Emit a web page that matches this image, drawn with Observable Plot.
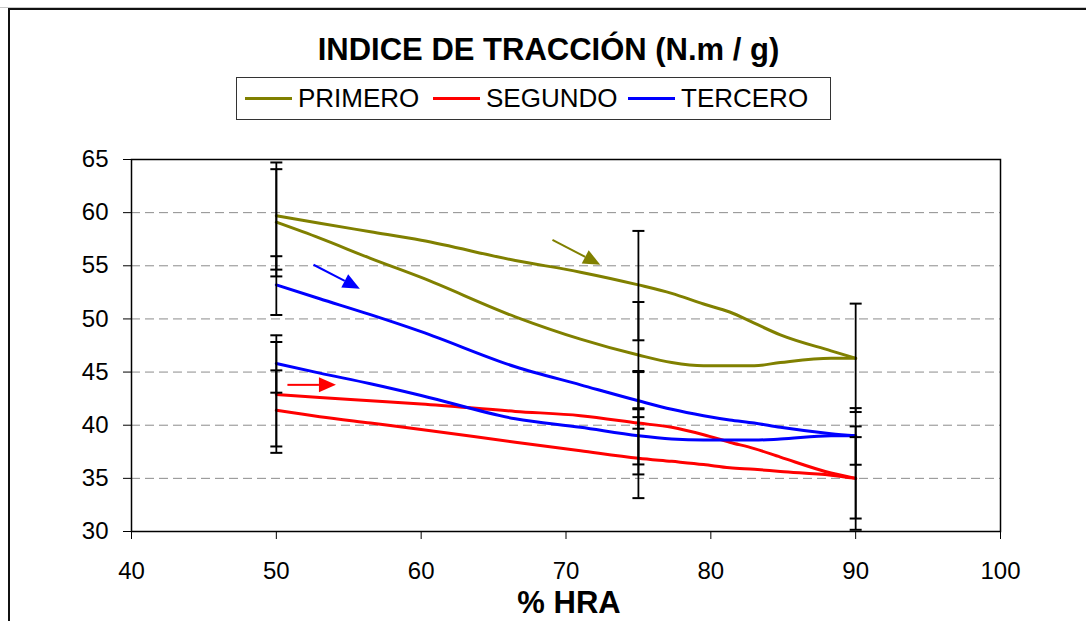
<!DOCTYPE html>
<html><head><meta charset="utf-8">
<script src="https://cdn.jsdelivr.net/npm/d3@7"></script>
<script src="https://cdn.jsdelivr.net/npm/@observablehq/plot@0.6"></script>
<style>
html,body{margin:0;padding:0;background:#fff;overflow:hidden;}
#wrap{position:relative;width:1086px;height:621px;overflow:hidden;font-family:"Liberation Sans",Arial,sans-serif;color:#000;}
#topline{position:absolute;left:0;top:7px;width:1086px;height:1px;background:#c8c8c8;}
#frame{position:absolute;left:8px;top:8px;width:1200px;height:800px;border-left:2px solid #111;border-top:2px solid #111;}
#title{position:absolute;left:0;width:1097px;top:30px;text-align:center;font-weight:bold;font-size:31px;line-height:40px;white-space:nowrap;}
#legend{position:absolute;left:236px;top:77px;width:593px;height:41px;border:1px solid #333;background:#fff;font-size:26px;}
.item{position:absolute;top:0;height:41px;display:flex;align-items:center;white-space:nowrap;}
.sw{display:inline-block;width:47px;height:3px;margin-right:6px;}
#chart{position:absolute;left:0;top:130px;}
#xlabel{position:absolute;left:0;width:1138px;top:585px;text-align:center;font-weight:bold;font-size:31px;line-height:36px;}
</style>
</head><body>
<div id="wrap">
  <div id="topline"></div>
  <div id="frame"></div>
  <div id="title">INDICE DE TRACCIÓN (N.m / g)</div>
  <div id="legend"></div>
  <div id="chart"></div>
  <div id="xlabel">% HRA</div>
</div>
<script>
// ---- data ----
const series = ["PRIMERO", "SEGUNDO", "TERCERO"];
const colors = ["#808000", "#FF0000", "#0000FF"];
const xTicks = [40, 50, 60, 70, 80, 90, 100];
const yTicks = [30, 35, 40, 45, 50, 55, 60, 65];
const gridY = [35, 40, 45, 50, 55, 60];

const hra = [50, 53, 56.5, 60, 66.5, 71, 75, 77.3, 79.5, 81.3, 83, 84.8, 88.3, 90];
const primeroIda     = [59.7, 59.0, 58.2, 57.4, 55.5, 54.4, 53.2, 52.4, 51.4, 50.65, 49.6, 48.5, 47.0, 46.3];
const primeroVuelta  = [59.1, 57.6, 55.7, 53.9, 50.2, 48.1, 46.6, 45.9, 45.6, 45.6, 45.6, 45.9, 46.3, 46.3];
const segundoIda     = [42.9, 42.6, 42.3, 42.0, 41.3, 40.9, 40.2, 39.8, 39.1, 38.4, 37.8, 37.0, 35.5, 35.0];
const segundoVuelta  = [41.4, 40.8, 40.2, 39.6, 38.4, 37.6, 36.9, 36.6, 36.3, 36.0, 35.85, 35.65, 35.3, 35.0];
const terceroIda     = [53.2, 51.9, 50.4, 48.8, 45.5, 43.8, 42.3, 41.5, 40.9, 40.5, 40.2, 39.8, 39.2, 39.0];
const terceroVuelta  = [45.8, 44.9, 43.9, 42.8, 40.6, 39.8, 39.0, 38.7, 38.6, 38.6, 38.6, 38.7, 39.0, 39.0];

// error bars (x, low, high)
const errX    = [50, 50, 50, 50, 50, 50, 75, 75, 75, 75, 75, 75, 90, 90, 90, 90];
const errLow  = [54.64, 54.0, 50.37, 43.06, 38.0, 37.4, 47.99, 41.6, 39.67, 36.31, 35.37, 33.14, 41.24, 36.28, 30.16, 31.22];
const errHigh = [64.72, 64.09, 55.9, 48.46, 47.83, 45.16, 58.28, 51.59, 45.1, 41.5, 45.0, 40.76, 51.44, 41.61, 39.89, 38.88];

// direction arrows
const arrowSeries = ["PRIMERO", "TERCERO", "SEGUNDO"];
const arrowX1 = [69.1, 52.6, 50.8];
const arrowY1 = [57.4, 55.05, 43.75];
const arrowX2 = [72.4, 55.8, 54.15];
const arrowY2 = [55.05, 52.8, 43.75];

// ---- build tables ----
const branches = [
  ["PRIMERO", "ida", primeroIda], ["PRIMERO", "vuelta", primeroVuelta],
  ["SEGUNDO", "ida", segundoIda], ["SEGUNDO", "vuelta", segundoVuelta],
  ["TERCERO", "ida", terceroIda], ["TERCERO", "vuelta", terceroVuelta]
];
const lineRows = branches.flatMap(([s, b, vals]) => hra.map((h, i) => ({hra: h, value: vals[i], series: s, branch: s + b})));
const errRows = errX.map((x, i) => ({x, lo: errLow[i], hi: errHigh[i]}));
const capRows = errRows.flatMap(d => [{x: d.x, y: d.lo}, {x: d.x, y: d.hi}]);
const arrowRows = arrowSeries.map((s, i) => ({s, x1: arrowX1[i], y1: arrowY1[i], x2: arrowX2[i], y2: arrowY2[i]}));
const colorOf = s => colors[series.indexOf(s)];

// legend
const legend = document.getElementById("legend");
const legendLeft = [8, 196, 391];
series.forEach((s, i) => {
  const it = document.createElement("div");
  it.className = "item";
  it.style.left = legendLeft[i] + "px";
  it.innerHTML = `<span class="sw" style="background:${colors[i]}"></span><span>${s}</span>`;
  legend.appendChild(it);
});

const capSymbol = {draw(ctx) { ctx.moveTo(-6, 0); ctx.lineTo(6, 0); }};

function arrows(index, scales) {
  const g = d3.create("svg:g");
  const {x, y} = scales;
  for (const a of arrowRows) {
    const x1 = x(a.x1), y1 = y(a.y1), x2 = x(a.x2), y2 = y(a.y2);
    const ang = Math.atan2(y2 - y1, x2 - x1);
    const L = 17, W = 7.5;
    const bx = x2 - L * Math.cos(ang), by = y2 - L * Math.sin(ang);
    const c = colorOf(a.s);
    g.append("line").attr("x1", x1).attr("y1", y1).attr("x2", bx).attr("y2", by)
      .attr("stroke", c).attr("stroke-width", 2);
    g.append("path")
      .attr("d", `M${x2},${y2}L${bx - W * Math.sin(ang)},${by + W * Math.cos(ang)}L${bx + W * Math.sin(ang)},${by - W * Math.cos(ang)}Z`)
      .attr("fill", c);
  }
  return g.node();
}

const chart = Plot.plot({
  width: 1086,
  height: 491,
  marginLeft: 131,
  marginRight: 86,
  marginTop: 29,
  marginBottom: 90,
  style: {fontSize: "24px", fontFamily: "'Liberation Sans', Arial, sans-serif", color: "#000", background: "transparent", overflow: "visible"},
  x: {domain: [40, 100], ticks: xTicks, tickSize: 8, tickPadding: 22, label: null},
  y: {domain: [30, 65], ticks: yTicks, tickSize: 8, tickPadding: 15, label: null},
  color: {domain: series, range: colors},
  marks: [
    Plot.ruleY(gridY, {stroke: "#8c8c8c", strokeDasharray: "9,5", strokeWidth: 1}),
    Plot.line(lineRows, {x: "hra", y: "value", z: "branch", stroke: "series", strokeWidth: 3, curve: "monotone-x"}),
    Plot.ruleX(errRows, {x: "x", y1: "lo", y2: "hi", stroke: "#000", strokeWidth: 1.8}),
    Plot.dot(capRows, {x: "x", y: "y", symbol: capSymbol, fill: "none", stroke: "#000", strokeWidth: 2}),
    arrows,
    Plot.frame({stroke: "#000", strokeWidth: 1.5})
  ]
});
document.getElementById("chart").appendChild(chart);
</script>
</body></html>
